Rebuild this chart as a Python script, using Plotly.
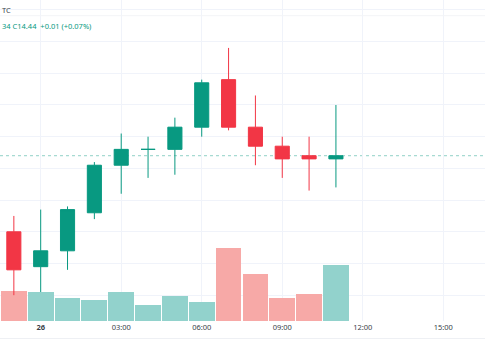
import plotly.graph_objects as go
import pandas as pd

# ---- data ----
times = pd.date_range("2024-05-25 23:00", periods=13, freq="h")
opens = [14.20, 14.09, 14.14, 14.26, 14.41, 14.46, 14.46, 14.53, 14.68, 14.53, 14.47, 14.44, 14.43]
highs = [14.25, 14.27, 14.28, 14.42, 14.51, 14.50, 14.56, 14.68, 14.78, 14.63, 14.50, 14.50, 14.60]
lows = [14.00, 14.01, 14.08, 14.24, 14.32, 14.37, 14.38, 14.50, 14.52, 14.41, 14.37, 14.33, 14.34]
closes = [14.08, 14.14, 14.27, 14.41, 14.46, 14.46, 14.53, 14.67, 14.53, 14.47, 14.43, 14.43, 14.44]
volumes = [1210, 1160, 920, 840, 1150, 640, 1010, 760, 2930, 1870, 930, 1090, 2250]

tick_times = pd.date_range("2024-05-26 00:00", periods=6, freq="3h")
tick_labels = ["<b>26</b>", "03:00", "06:00", "09:00", "12:00", "15:00"]
price_grid = [14.0, 14.1, 14.2, 14.3, 14.4, 14.5, 14.6, 14.7, 14.8, 14.9]

UP = "#089981"
DOWN = "#F23645"
VOL_UP = "#92D2CC"
VOL_DOWN = "#F7A9A7"
GRID = "#F0F3FA"
FONT = "Noto Sans"

vol_colors = [VOL_UP if c >= o else VOL_DOWN for o, c in zip(opens, closes)]

fig = go.Figure()
fig.add_trace(go.Bar(
    x=times, y=volumes, yaxis="y",
    marker=dict(color=vol_colors, line=dict(width=0)),
    width=3600000 * 0.96, hoverinfo="skip", showlegend=False,
))
fig.add_trace(go.Candlestick(
    x=times, open=opens, high=highs, low=lows, close=closes, yaxis="y2",
    increasing=dict(line=dict(color=UP, width=1), fillcolor=UP),
    decreasing=dict(line=dict(color=DOWN, width=1), fillcolor=DOWN),
    whiskerwidth=0, showlegend=False, hoverinfo="skip",
))

last_close = closes[-1]
prev_close = closes[-2]
chg = last_close - prev_close
pct = chg / prev_close * 100
legend_text = f"{lows[-1]:.2f}"[-2:] + f" C{last_close:.2f}  {chg:+.2f} ({pct:+.2f}%)"

PLOT_H = 321.0

def py(px):
    return (PLOT_H - px) / PLOT_H

fig.add_shape(type="line", xref="paper", yref="y2", x0=0, x1=1,
              y0=last_close, y1=last_close,
              line=dict(color="rgba(8,153,129,0.45)", width=1, dash="dot"), layer="below")
fig.add_shape(type="line", xref="paper", yref="paper", x0=0, x1=1,
              y0=py(338.5), y1=py(338.5), line=dict(color="#EEF0F4", width=1))
fig.add_shape(type="line", xref="paper", yref="paper", x0=0, x1=1,
              y0=py(15.7), y1=py(15.7), line=dict(color="#F3F4F7", width=1))

fig.add_annotation(xref="paper", yref="paper", x=0, y=py(10), xanchor="left", yanchor="middle",
                   text="TC", showarrow=False, font=dict(family=FONT, size=7.5, color="#3b3f4a"))
fig.add_annotation(xref="paper", yref="paper", x=0, y=py(26), xanchor="left", yanchor="middle",
                   text=legend_text, showarrow=False, font=dict(family=FONT, size=7.5, color=UP))

h0 = pd.Timestamp("2024-05-26 00:00")
x_start = h0 + pd.Timedelta(hours=-1.516)
x_end = h0 + pd.Timedelta(hours=16.554)

fig.update_layout(
    width=485, height=360,
    margin=dict(l=0, r=0, t=0, b=39),
    paper_bgcolor="white", plot_bgcolor="white",
    boxgap=0.25, bargap=0,
    font=dict(family=FONT, size=7.5, color="#3b3f4a"),
    xaxis=dict(range=[x_start, x_end], tickvals=tick_times, ticktext=tick_labels,
               showgrid=True, gridcolor=GRID, gridwidth=1, zeroline=False,
               showline=False, ticks="", rangeslider=dict(visible=False),
               tickfont=dict(family=FONT, size=7.5, color="#3b3f4a")),
    yaxis=dict(range=[0, PLOT_H * 40], showgrid=False, showticklabels=False,
               zeroline=False, showline=False, ticks=""),
    yaxis2=dict(range=[13.9186, 14.9312], overlaying="y", tickvals=price_grid,
                showgrid=True, gridcolor=GRID, gridwidth=1, showticklabels=False,
                zeroline=False, showline=False, ticks=""),
    hovermode=False,
)

fig.write_html(
    "out.html",
    config={"displayModeBar": False},
    post_script="document.body.style.margin='0';document.body.style.overflow='hidden';",
)
